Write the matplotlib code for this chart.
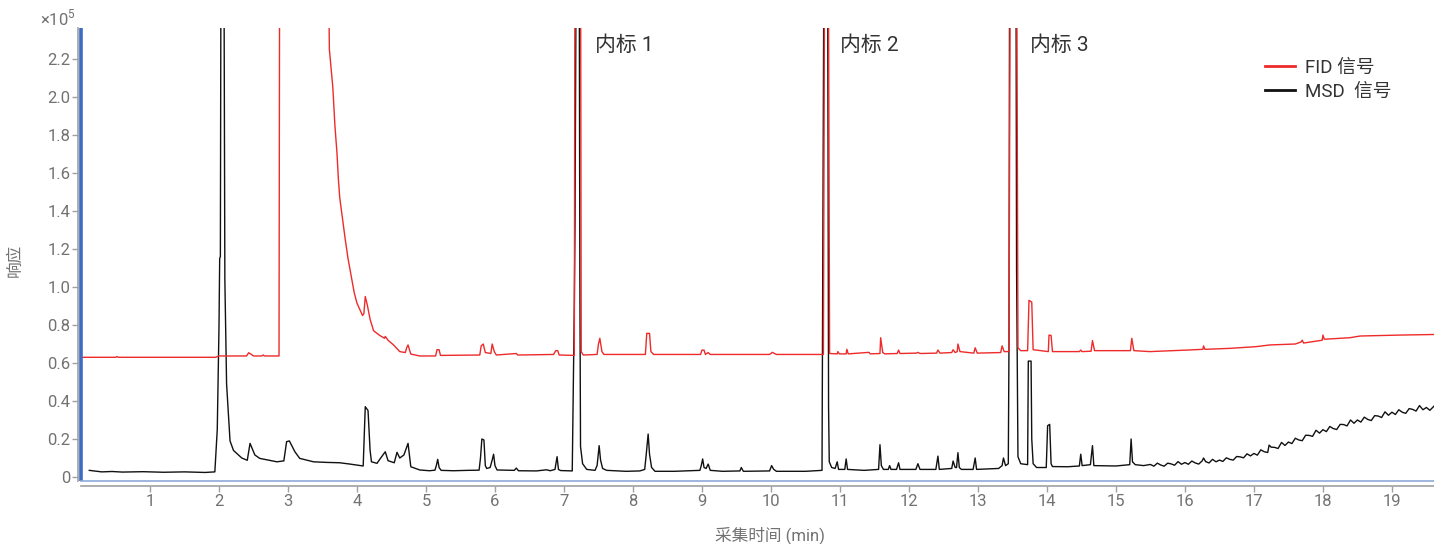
import matplotlib.pyplot as plt
from matplotlib.lines import Line2D
from matplotlib.ticker import FuncFormatter

plt.rcParams["font.family"] = ["Roboto", "Noto Sans CJK SC", "DejaVu Sans"]
plt.rcParams["mathtext.fontset"] = "custom"
plt.rcParams["mathtext.rm"] = "Roboto"

# retention time (min), response (x1e5); peaks that run off scale are capped at 3.0
msd_points = [
    (0.12, 0.035), (0.3, 0.027), (0.45, 0.029), (0.6, 0.026), (0.9, 0.028), (1.2, 0.025),
    (1.5, 0.027), (1.8, 0.024), (1.94, 0.027), (1.975, 0.25), (2.00, 0.79), (2.01, 1.15),
    (2.02, 1.16), (2.03, 3.0), (2.07, 3.0), (2.085, 1.04), (2.11, 0.49), (2.16, 0.19),
    (2.21, 0.14), (2.33, 0.10), (2.41, 0.088), (2.45, 0.177), (2.52, 0.116), (2.59, 0.098),
    (2.70, 0.09), (2.84, 0.08), (2.94, 0.085), (2.98, 0.186), (3.02, 0.19), (3.10, 0.133),
    (3.17, 0.098), (3.37, 0.08), (3.55, 0.077), (3.75, 0.075), (3.90, 0.068), (4.09, 0.058),
    (4.12, 0.37), (4.16, 0.35), (4.19, 0.14), (4.21, 0.08), (4.29, 0.072), (4.33, 0.093),
    (4.41, 0.133), (4.45, 0.086), (4.54, 0.075), (4.58, 0.13), (4.62, 0.10), (4.68, 0.116),
    (4.74, 0.177), (4.78, 0.054), (4.91, 0.037), (5.05, 0.033), (5.13, 0.036), (5.15, 0.06),
    (5.17, 0.093), (5.19, 0.05), (5.22, 0.035), (5.40, 0.033), (5.60, 0.035), (5.77, 0.036),
    (5.79, 0.10), (5.81, 0.20), (5.84, 0.195), (5.86, 0.06), (5.88, 0.045), (5.93, 0.05),
    (5.96, 0.09), (5.98, 0.12), (6.00, 0.06), (6.03, 0.037), (6.28, 0.035), (6.31, 0.047),
    (6.34, 0.033), (6.60, 0.032), (6.75, 0.038), (6.80, 0.033), (6.87, 0.04), (6.90, 0.107),
    (6.92, 0.04), (6.95, 0.034), (7.12, 0.032), (7.15, 0.9), (7.16, 1.33), (7.18, 3.0),
    (7.22, 3.0), (7.23, 1.08), (7.24, 0.16), (7.27, 0.07), (7.33, 0.04), (7.45, 0.035),
    (7.48, 0.06), (7.51, 0.165), (7.53, 0.09), (7.56, 0.045), (7.62, 0.035), (7.90, 0.03),
    (8.10, 0.032), (8.17, 0.04), (8.19, 0.11), (8.22, 0.226), (8.24, 0.12), (8.27, 0.05),
    (8.32, 0.03), (8.60, 0.03), (8.97, 0.035), (8.99, 0.06), (9.01, 0.095), (9.03, 0.05),
    (9.06, 0.045), (9.09, 0.068), (9.12, 0.035), (9.30, 0.03), (9.55, 0.032), (9.57, 0.05),
    (9.60, 0.03), (9.98, 0.032), (10.01, 0.06), (10.04, 0.04), (10.08, 0.03), (10.50, 0.03),
    (10.74, 0.035), (10.77, 3.0), (10.82, 3.0), (10.835, 0.37), (10.845, 0.08), (10.88, 0.05),
    (10.93, 0.045), (10.96, 0.08), (10.98, 0.04), (11.07, 0.04), (11.09, 0.095), (11.11, 0.04),
    (11.35, 0.035), (11.56, 0.04), (11.58, 0.17), (11.60, 0.06), (11.63, 0.04), (11.70, 0.04),
    (11.72, 0.06), (11.74, 0.04), (11.82, 0.04), (11.85, 0.075), (11.87, 0.04), (12.10, 0.04),
    (12.13, 0.07), (12.16, 0.04), (12.39, 0.04), (12.42, 0.11), (12.44, 0.04), (12.62, 0.045),
    (12.64, 0.084), (12.67, 0.05), (12.69, 0.05), (12.71, 0.128), (12.73, 0.05), (12.76, 0.04),
    (12.93, 0.04), (12.96, 0.10), (12.98, 0.04), (13.30, 0.045), (13.35, 0.06), (13.37, 0.10),
    (13.40, 0.06), (13.44, 0.07), (13.45, 0.7), (13.46, 3.0), (13.55, 3.0), (13.56, 1.09),
    (13.58, 0.107), (13.62, 0.07), (13.72, 0.065), (13.73, 0.61), (13.77, 0.61), (13.78, 0.2),
    (13.80, 0.07), (13.85, 0.05), (13.99, 0.05), (14.01, 0.27), (14.04, 0.277), (14.06, 0.07),
    (14.08, 0.055), (14.30, 0.054), (14.47, 0.058), (14.49, 0.12), (14.51, 0.06), (14.63, 0.065),
    (14.66, 0.165), (14.68, 0.06), (15.00, 0.058), (15.20, 0.065), (15.22, 0.20), (15.24, 0.08),
    (15.28, 0.065), (15.40, 0.06), (15.50, 0.066), (15.55, 0.057), (15.60, 0.073), (15.65, 0.063),
    (15.70, 0.057), (15.75, 0.073), (15.80, 0.069), (15.85, 0.062), (15.90, 0.081), (15.95, 0.067),
    (16.00, 0.076), (16.05, 0.067), (16.10, 0.084), (16.15, 0.074), (16.20, 0.068), (16.25, 0.085),
    (16.27, 0.100), (16.30, 0.081), (16.35, 0.074), (16.40, 0.093), (16.45, 0.080), (16.50, 0.089),
    (16.55, 0.082), (16.60, 0.101), (16.65, 0.093), (16.70, 0.089), (16.75, 0.108), (16.80, 0.106),
    (16.85, 0.101), (16.90, 0.122), (16.95, 0.111), (17.00, 0.124), (17.05, 0.115), (17.10, 0.143),
    (17.15, 0.133), (17.20, 0.129), (17.22, 0.168), (17.25, 0.157), (17.30, 0.156), (17.35, 0.150),
    (17.40, 0.182), (17.45, 0.166), (17.50, 0.184), (17.55, 0.176), (17.60, 0.204), (17.65, 0.195),
    (17.70, 0.191), (17.75, 0.220), (17.80, 0.219), (17.85, 0.214), (17.90, 0.246), (17.95, 0.231),
    (18.00, 0.249), (18.05, 0.239), (18.10, 0.266), (18.15, 0.255), (18.20, 0.250), (18.25, 0.277),
    (18.30, 0.276), (18.35, 0.269), (18.40, 0.300), (18.45, 0.283), (18.50, 0.300), (18.55, 0.289),
    (18.60, 0.315), (18.65, 0.303), (18.70, 0.297), (18.75, 0.323), (18.80, 0.321), (18.85, 0.313),
    (18.90, 0.343), (18.95, 0.325), (19.00, 0.341), (19.05, 0.329), (19.10, 0.354), (19.15, 0.341),
    (19.20, 0.335), (19.25, 0.360), (19.30, 0.356), (19.35, 0.347), (19.40, 0.376), (19.45, 0.354),
    (19.50, 0.366), (19.55, 0.351), (19.61, 0.373),
]

fid_points = [
    (0.0, 0.630), (0.50, 0.630), (0.52, 0.634), (0.54, 0.630), (1.0, 0.630), (1.95, 0.630),
    (2.00, 0.637), (2.40, 0.637), (2.43, 0.654), (2.47, 0.645), (2.50, 0.637), (2.62, 0.637),
    (2.64, 0.642), (2.66, 0.637), (2.87, 0.637), (2.88, 3.0), (3.575, 3.0), (3.60, 2.25),
    (3.65, 2.05), (3.68, 1.85), (3.71, 1.705), (3.73, 1.57), (3.75, 1.47), (3.79, 1.36),
    (3.83, 1.25), (3.87, 1.15), (3.92, 1.05), (3.96, 0.97), (4.00, 0.915), (4.08, 0.85),
    (4.10, 0.86), (4.12, 0.95), (4.15, 0.905), (4.19, 0.83), (4.24, 0.77), (4.33, 0.745),
    (4.40, 0.73), (4.41, 0.74), (4.45, 0.72), (4.53, 0.695), (4.62, 0.66), (4.70, 0.655),
    (4.72, 0.68), (4.74, 0.695), (4.78, 0.647), (4.91, 0.637), (5.14, 0.637), (5.16, 0.67),
    (5.19, 0.67), (5.21, 0.64), (5.78, 0.642), (5.80, 0.69), (5.83, 0.70), (5.86, 0.655),
    (5.94, 0.65), (5.96, 0.70), (5.99, 0.66), (6.02, 0.642), (6.31, 0.65), (6.33, 0.642),
    (6.85, 0.645), (6.88, 0.665), (6.91, 0.665), (6.93, 0.642), (7.15, 0.64), (7.16, 3.0),
    (7.24, 3.0), (7.25, 0.66), (7.28, 0.642), (7.48, 0.645), (7.50, 0.70), (7.52, 0.73),
    (7.55, 0.66), (7.58, 0.645), (8.18, 0.645), (8.20, 0.756), (8.24, 0.756), (8.26, 0.66),
    (8.30, 0.645), (8.98, 0.645), (9.00, 0.668), (9.03, 0.668), (9.05, 0.645), (9.09, 0.655),
    (9.12, 0.645), (9.98, 0.645), (10.02, 0.656), (10.05, 0.65), (10.08, 0.645), (10.76, 0.645),
    (10.78, 3.0), (10.83, 3.0), (10.85, 0.65), (10.96, 0.648), (10.97, 0.66), (10.99, 0.648),
    (11.09, 0.648), (11.10, 0.672), (11.12, 0.648), (11.42, 0.656), (11.44, 0.648), (11.58, 0.65),
    (11.59, 0.733), (11.62, 0.655), (11.65, 0.648), (11.83, 0.65), (11.85, 0.668), (11.87, 0.65),
    (12.11, 0.652), (12.13, 0.656), (12.16, 0.65), (12.40, 0.652), (12.42, 0.668), (12.45, 0.652),
    (12.62, 0.655), (12.64, 0.67), (12.67, 0.655), (12.70, 0.66), (12.71, 0.70), (12.74, 0.66),
    (12.94, 0.652), (12.96, 0.68), (12.99, 0.652), (13.33, 0.655), (13.35, 0.69), (13.38, 0.66),
    (13.45, 0.66), (13.47, 3.0), (13.56, 3.0), (13.58, 0.68), (13.62, 0.665), (13.72, 0.665),
    (13.74, 0.93), (13.78, 0.92), (13.80, 0.67), (14.02, 0.66), (14.03, 0.747), (14.06, 0.745),
    (14.08, 0.66), (14.47, 0.66), (14.49, 0.668), (14.51, 0.66), (14.64, 0.662), (14.66, 0.718),
    (14.69, 0.665), (15.21, 0.665), (15.23, 0.73), (15.26, 0.665), (15.49, 0.66), (16.03, 0.668),
    (16.26, 0.672), (16.27, 0.69), (16.29, 0.672), (16.65, 0.677), (17.03, 0.686), (17.23, 0.695),
    (17.60, 0.70), (17.68, 0.71), (17.70, 0.72), (17.72, 0.705), (17.99, 0.72), (18.00, 0.747),
    (18.02, 0.725), (18.39, 0.733), (18.54, 0.742), (19.12, 0.747), (19.61, 0.75),
]

is_names = ["内标 1", "内标 2", "内标 3"]
is_times = [7.45, 11.0, 13.75]

y_ticks = [0, 0.2, 0.4, 0.6, 0.8, 1.0, 1.2, 1.4, 1.6, 1.8, 2.0, 2.2]
x_ticks = list(range(1, 20))

grey = "#727272"
axis_grey = "#a0a0a0"

fig = plt.figure(figsize=(14.34, 5.44), dpi=100)
ax = fig.add_axes([81 / 1434, 63 / 544, 1 - 81 / 1434, 453 / 544])

mt, mv = zip(*msd_points)
ft, fv = zip(*fid_points)
ax.plot(mt, mv, color="#111111", lw=1.0)
ax.plot(ft, fv, color="#ee2a2a", lw=1.0)

ax.set_xlim(0, 19.61)
ax.set_ylim(-0.021, 2.363)

for name, t in zip(is_names, is_times):
    ax.text(t, 2.27, name, fontsize=15, color="#333333", va="center", ha="left")

# axis look: grey offset spines plus a blue frame edge
for s in ["top", "right"]:
    ax.spines[s].set_visible(False)
ax.spines["left"].set_position(("outward", 2.2))
ax.spines["bottom"].set_position(("outward", 3.6))
for s in ["left", "bottom"]:
    ax.spines[s].set_color(axis_grey)
    ax.spines[s].set_linewidth(1.2)
ax.plot([0, 0], [0, 1], transform=ax.transAxes, color="#3d6cc4", lw=2.6, clip_on=False, solid_capstyle="butt")
ax.plot([0, 1], [0, 0], transform=ax.transAxes, color="#8ea9da", lw=1.2, clip_on=False)

ax.set_xticks(x_ticks)
ax.set_yticks(y_ticks)
ax.yaxis.set_major_formatter(FuncFormatter(lambda v, p: "0" if v == 0 else f"{v:.1f}"))
ax.tick_params(axis="both", colors=axis_grey, labelcolor=grey, labelsize=12, length=4, width=1)
ax.tick_params(axis="y", pad=1.5)
ax.tick_params(axis="x", pad=2)

ax.text(-0.004, 1.0, r"×10$^5$", transform=ax.transAxes, ha="right", va="bottom",
        fontsize=12, color=grey)

ax.set_ylabel("响应", fontsize=12, color=grey, va="center")
ax.yaxis.set_label_coords(-0.049, 0.488)
ax.set_xlabel("采集时间 (min)", fontsize=12, color=grey, va="center")
ax.xaxis.set_label_coords(0.509, -0.12)

handles = [Line2D([], [], color="#ee2a2a", lw=2), Line2D([], [], color="#111111", lw=2)]
ax.legend(handles, ["FID 信号", "MSD  信号"], loc="upper left", bbox_to_anchor=(0.875, 0.932),
          frameon=False, fontsize=13.5, handlelength=1.6, handletextpad=0.53,
          labelspacing=0.33, borderpad=0, borderaxespad=0, labelcolor="#333333")

fig.savefig("out.png", dpi=100)
